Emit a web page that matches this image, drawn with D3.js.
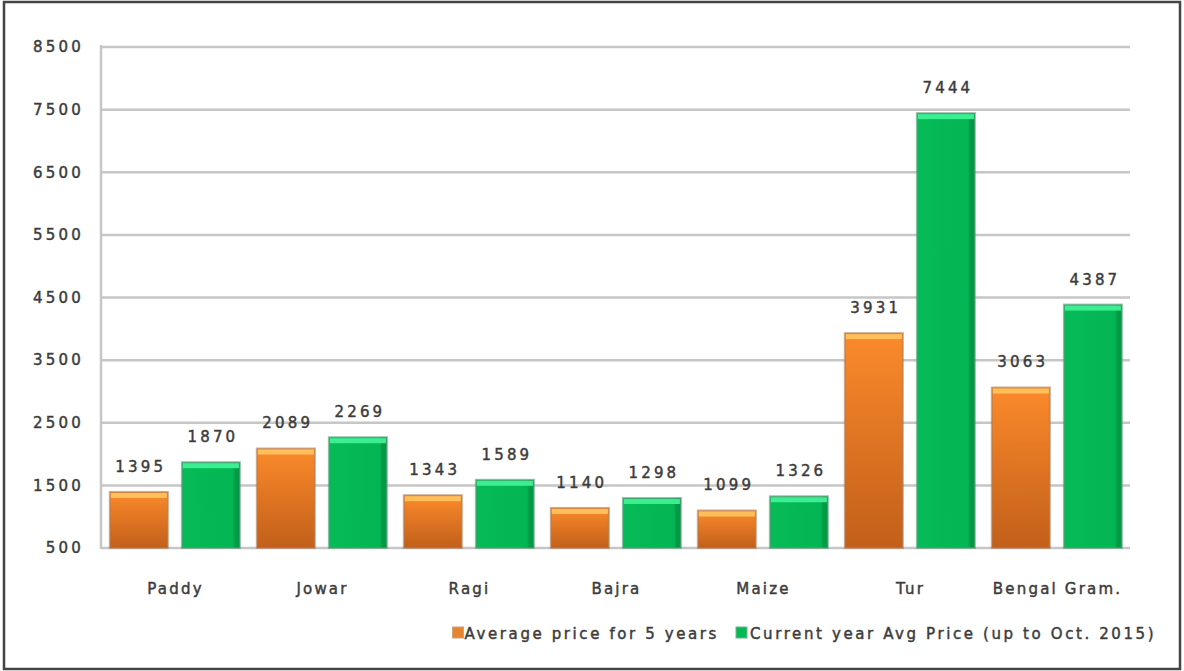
<!DOCTYPE html>
<html>
<head>
<meta charset="utf-8">
<script src="https://cdn.jsdelivr.net/npm/d3@7"></script>
<style>
  body { margin: 0; background: #fff; }
  text { font-family: "DejaVu Sans", sans-serif; fill: #3c3c3c; stroke: #3c3c3c; stroke-width: 0.45px; }
</style>
</head>
<body>
<svg id="chart" width="1184" height="671"></svg>
<script>
// data
const crops = ["Paddy", "Jowar", "Ragi", "Bajra", "Maize", "Tur", "Bengal Gram."]
const avg5yr = [1395, 2089, 1343, 1140, 1099, 3931, 3063]
const curYear = [1870, 2269, 1589, 1298, 1326, 7444, 4387]
const seriesNames = ["Average price for 5 years", "Current year Avg Price (up to Oct. 2015)"]
const yTicks = [500, 1500, 2500, 3500, 4500, 5500, 6500, 7500, 8500]

const svg = d3.select("#chart")
const W = 1184, H = 671
const plot = { left: 101, right: 1130, top: 47, bottom: 548 }

// outer frame
svg.append("rect").attr("x", 4).attr("y", 2).attr("width", W - 8).attr("height", H - 4)
  .attr("fill", "#fff").attr("stroke", "#444").attr("stroke-width", 2.5)

const y = d3.scaleLinear().domain([500, 8500]).range([plot.bottom, plot.top])
const x = d3.scaleBand().domain(crops).range([plot.left, plot.right])
const xs = d3.scaleBand().domain([0, 1])
  .range([x.bandwidth() * 0.06, x.bandwidth() * 0.945]).paddingInner(0.194)

const defs = svg.append("defs")
const og = defs.append("linearGradient").attr("id", "gOrange").attr("x1", 0).attr("y1", 0).attr("x2", 0).attr("y2", 1)
og.append("stop").attr("offset", "0%").attr("stop-color", "#fb8a2b")
og.append("stop").attr("offset", "100%").attr("stop-color", "#c25f1a")
const gg = defs.append("linearGradient").attr("id", "gGreen").attr("x1", 0).attr("y1", 0).attr("x2", 1).attr("y2", 0)
gg.append("stop").attr("offset", "0%").attr("stop-color", "#06bb57")
gg.append("stop").attr("offset", "88%").attr("stop-color", "#04b553")
gg.append("stop").attr("offset", "92%").attr("stop-color", "#009a45")
gg.append("stop").attr("offset", "100%").attr("stop-color", "#009a45")

// gridlines
svg.append("g").selectAll("line").data(yTicks).join("line")
  .attr("x1", plot.left).attr("x2", plot.right)
  .attr("y1", d => y(d)).attr("y2", d => y(d))
  .attr("stroke", "#c6c6c6").attr("stroke-width", 2.5)
svg.append("line").attr("x1", plot.left).attr("x2", plot.left)
  .attr("y1", plot.top - 2).attr("y2", plot.bottom + 1)
  .attr("stroke", "#c6c6c6").attr("stroke-width", 2.5)

// y tick labels
svg.append("g").selectAll("text").data(yTicks).join("text")
  .attr("x", 84).attr("y", d => y(d)).attr("dy", "0.35em")
  .attr("text-anchor", "end").attr("font-size", 15).attr("letter-spacing", 3.2)
  .text(d => d)

const series = [
  { vals: avg5yr, fill: "url(#gOrange)", top: "#ffc05c", stroke: "#b07a50" },
  { vals: curYear, fill: "url(#gGreen)", top: "#3cee92", stroke: "#5a9a78" }
]

series.forEach((s, si) => {
  const g = svg.append("g")
  const bars = crops.map((c, i) => ({ c, v: s.vals[i] }))
  g.selectAll("rect.bar").data(bars).join("rect").attr("class", "bar")
    .attr("x", d => x(d.c) + xs(si)).attr("width", xs.bandwidth())
    .attr("y", d => y(d.v)).attr("height", d => plot.bottom - y(d.v))
    .attr("fill", s.fill).attr("stroke", s.stroke).attr("stroke-opacity", 0.6).attr("stroke-width", 2)
  g.selectAll("rect.hl").data(bars).join("rect").attr("class", "hl")
    .attr("x", d => x(d.c) + xs(si) + 1).attr("width", xs.bandwidth() - 2)
    .attr("y", d => y(d.v) + 1).attr("height", 5)
    .attr("fill", s.top)
  g.selectAll("text").data(bars).join("text")
    .attr("x", d => x(d.c) + xs(si) + xs.bandwidth() / 2 + 2)
    .attr("y", d => y(d.v) - 20)
    .attr("text-anchor", "middle").attr("font-size", 15).attr("letter-spacing", 3.2)
    .text(d => d.v)
})

// category labels
svg.append("g").selectAll("text").data(crops).join("text")
  .attr("x", d => x(d) + x.bandwidth() / 2 + 1).attr("y", 594)
  .attr("text-anchor", "middle").attr("font-size", 15).attr("letter-spacing", 2.2)
  .text(d => d)

// legend
const leg = svg.append("g")
leg.append("text").attr("x", 750).attr("y", 639).attr("font-size", 15).attr("letter-spacing", 2.6)
  .text(seriesNames[1])
leg.append("rect").attr("x", 736).attr("y", 627).attr("width", 11).attr("height", 11).attr("fill", "#06b955").attr("stroke", "#6fb28d")
const t1 = leg.append("text").attr("x", 719).attr("y", 639).attr("text-anchor", "end").attr("font-size", 15).attr("letter-spacing", 2.6)
  .text(seriesNames[0])
const t1w = t1.node().getComputedTextLength()
leg.append("rect").attr("x", 719 - t1w - 12).attr("y", 627).attr("width", 11).attr("height", 11).attr("fill", "#e88430").attr("stroke", "#c9a17e")
</script>
</body>
</html>
